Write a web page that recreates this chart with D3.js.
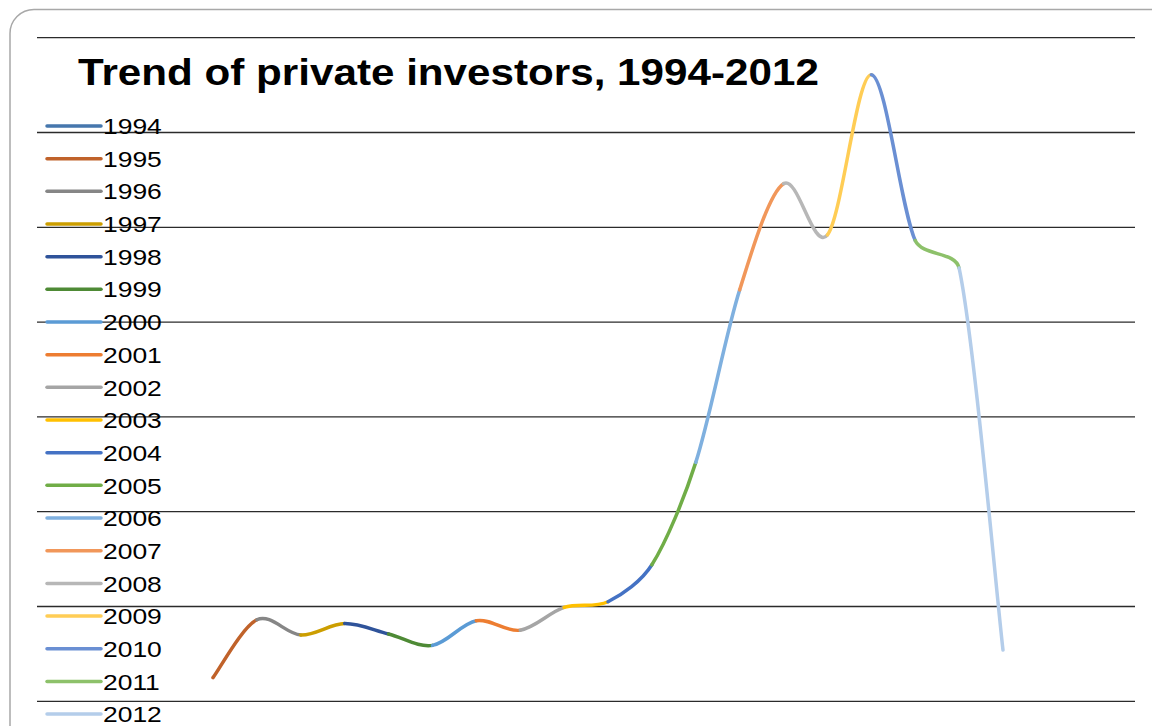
<!DOCTYPE html>
<html>
<head>
<meta charset="utf-8">
<script src="https://cdn.jsdelivr.net/npm/d3@7"></script>
<style>
  html, body { margin: 0; padding: 0; background: #fff; }
  svg { display: block; font-family: "Liberation Sans", Arial, sans-serif; }
</style>
</head>
<body>
<div id="viz"></div>
<script>
const years = ["1994", "1995", "1996", "1997", "1998", "1999", "2000", "2001", "2002", "2003",
               "2004", "2005", "2006", "2007", "2008", "2009", "2010", "2011", "2012"];
const investors = [2.5, 8.6, 7.0, 8.2, 7.1, 5.9, 8.5, 7.5, 9.9, 10.5,
                   14.4, 25.2, 43.4, 54.6, 49.2, 66.1, 48.6, 45.7, 5.4];
const seriesColors = ["#4677ad", "#c0622a", "#868686", "#cc9e00", "#2f539a", "#4e8a35",
                      "#5b9bd5", "#ed7d31", "#a5a5a5", "#ffc000", "#4472c4", "#70ad47",
                      "#7fb0df", "#f1975a", "#b7b7b7", "#ffcd55", "#6a8fd3", "#8dc16a", "#b4cdea"];
const gridTicks = [0, 10, 20, 30, 40, 50, 60, 70];
const title = "Trend of private investors, 1994-2012";

const width = 1152, height = 726;

const svg = d3.select("#viz").append("svg")
    .attr("width", width)
    .attr("height", height);

// outer rounded frame
svg.append("rect")
    .attr("x", 10).attr("y", 9.5)
    .attr("width", 1170).attr("height", 760)
    .attr("rx", 24)
    .attr("fill", "none")
    .attr("stroke", "#a8a8a8")
    .attr("stroke-width", 1.5);

const x = d3.scalePoint()
    .domain(years)
    .range([213, 1003]);

const y = d3.scaleLinear()
    .domain([0, 70])
    .range([701.3, 37.7]);

// horizontal gridlines
svg.append("g")
    .selectAll("line")
    .data(gridTicks)
    .enter().append("line")
    .attr("x1", 37).attr("x2", 1135)
    .attr("y1", d => y(d)).attr("y2", d => y(d))
    .attr("stroke", "#2b2b2b")
    .attr("stroke-width", 1.3);

// smoothed line, one coloured piece per year.
// catmull-rom tangents, but handle length is capped by the segment length
// so steep neighbours don't make the curve overshoot (like excel does)
const pts = years.map((yr, i) => [x(yr), y(investors[i])]);
const tangents = pts.map((p, i) => {
    const a = pts[Math.max(i - 1, 0)], b = pts[Math.min(i + 1, pts.length - 1)];
    return [(b[0] - a[0]) / 6, (b[1] - a[1]) / 6];
});
function handle(t, len) {
    const m = Math.hypot(t[0], t[1]);
    const k = m > len / 3 ? (len / 3) / m : 1;
    return [t[0] * k, t[1] * k];
}
const segs = svg.append("g");
for (let i = 0; i < pts.length - 1; i++) {
    const p1 = pts[i], p2 = pts[i + 1];
    const len = Math.hypot(p2[0] - p1[0], p2[1] - p1[1]);
    const h1 = handle(tangents[i], len), h2 = handle(tangents[i + 1], len);
    const p = d3.path();
    p.moveTo(p1[0], p1[1]);
    p.bezierCurveTo(p1[0] + h1[0], p1[1] + h1[1], p2[0] - h2[0], p2[1] - h2[1], p2[0], p2[1]);
    segs.append("path")
        .attr("d", p)
        .attr("fill", "none")
        .attr("stroke", seriesColors[i + 1])
        .attr("stroke-width", 3.5)
        .attr("stroke-linecap", "round");
}

// title
svg.append("text")
    .attr("transform", "translate(78,85) scale(1.125,1)")
    .attr("font-size", 37.5)
    .attr("font-weight", "bold")
    .attr("fill", "#000")
    .text(title);

// legend
const legend = svg.append("g");
const item = legend.selectAll("g")
    .data(years)
    .enter().append("g")
    .attr("transform", (d, i) => `translate(0,${126 + i * 32.67})`);

item.append("line")
    .attr("x1", 47).attr("x2", 101)
    .attr("stroke", (d, i) => seriesColors[i])
    .attr("stroke-width", 3.5)
    .attr("stroke-linecap", "round");

item.append("text")
    .attr("transform", "translate(103,0) scale(1.17,1)")
    .attr("dy", "0.36em")
    .attr("font-size", 22.6)
    .attr("fill", "#000")
    .text(d => d);
</script>
</body>
</html>
